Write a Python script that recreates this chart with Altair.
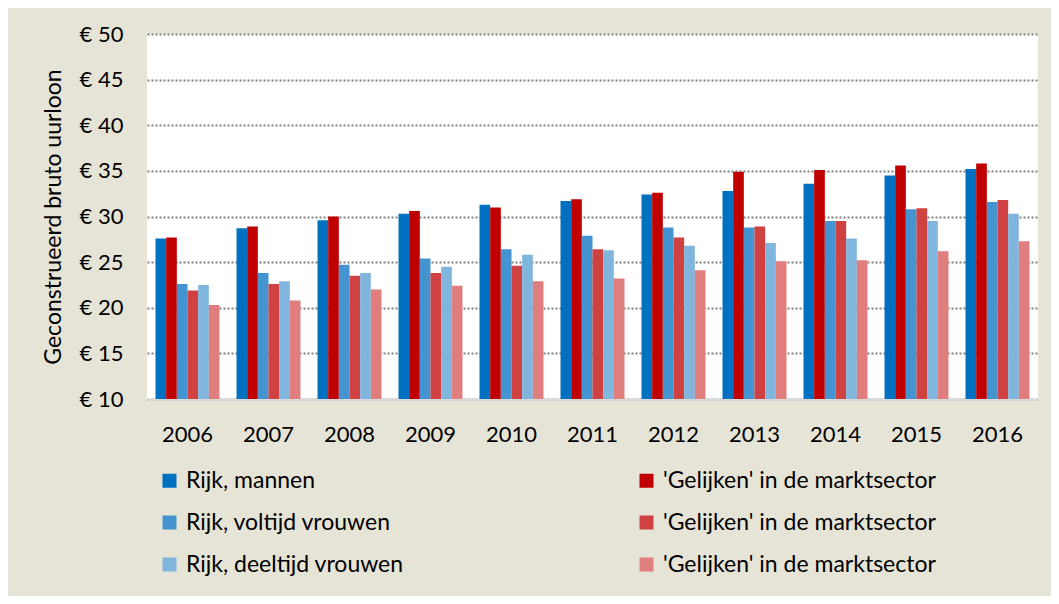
import altair as alt
import pandas as pd

years = ["2006", "2007", "2008", "2009", "2010", "2011", "2012", "2013", "2014", "2015", "2016"]

rijk_mannen = [27.6, 28.7, 29.6, 30.3, 31.3, 31.7, 32.4, 32.8, 33.6, 34.5, 35.2]
gelijk_mannen = [27.7, 28.9, 30.0, 30.6, 31.0, 31.9, 32.6, 34.9, 35.1, 35.6, 35.8]
rijk_voltijd = [22.6, 23.8, 24.7, 25.4, 26.4, 27.9, 28.8, 28.8, 29.5, 30.8, 31.6]
gelijk_voltijd = [21.9, 22.6, 23.5, 23.8, 24.6, 26.4, 27.7, 28.9, 29.5, 30.9, 31.8]
rijk_deeltijd = [22.5, 22.9, 23.8, 24.5, 25.8, 26.3, 26.8, 27.1, 27.6, 29.5, 30.3]
gelijk_deeltijd = [20.3, 20.8, 22.0, 22.4, 22.9, 23.2, 24.1, 25.1, 25.2, 26.2, 27.3]

# bar order within each year group
series_keys = ["s1", "s2", "s3", "s4", "s5", "s6"]
series_labels = [
    "Rijk, mannen",
    "'Gelijken' in de marktsector",
    "Rijk, voltijd vrouwen",
    "'Gelijken' in de marktsector",
    "Rijk, deeltijd vrouwen",
    "'Gelijken' in de marktsector",
]
series_colors = ["#0070C0", "#C00000", "#4394D1", "#D04141", "#80B5DE", "#E07E7E"]
series_values = [rijk_mannen, gelijk_mannen, rijk_voltijd, gelijk_voltijd, rijk_deeltijd, gelijk_deeltijd]

# legend order (filled column by column)
legend_order = ["s1", "s3", "s5", "s2", "s4", "s6"]
legend_colors = [series_colors[series_keys.index(k)] for k in legend_order]

rows = []
for key, vals in zip(series_keys, series_values):
    for y, v in zip(years, vals):
        rows.append({"jaar": y, "reeks": key, "waarde": v})
df = pd.DataFrame(rows)

label_map = "{" + ", ".join(f"'{k}': \"{l}\"" for k, l in zip(series_keys, series_labels)) + "}"

FONT = "Lato"

chart = alt.Chart(df).mark_bar().encode(
    x=alt.X(
        "jaar:N",
        sort=years,
        scale=alt.Scale(paddingInner=0.21, paddingOuter=0.105),
        axis=alt.Axis(
            title=None, labelAngle=0, ticks=False, domainColor="#D9D9D9", domainWidth=2,
            labelFontSize=22, labelPadding=25, labelColor="#000000", labelFont=FONT,
        ),
    ),
    xOffset=alt.XOffset("reeks:N", sort=series_keys, scale=alt.Scale(paddingInner=0)),
    y=alt.Y(
        "waarde:Q",
        scale=alt.Scale(domain=[10, 50], nice=False, zero=False),
        axis=alt.Axis(
            title="Geconstrueerd bruto uurloon", titleFontSize=23, titleFontWeight="normal",
            titleFont=FONT, titleColor="#000000", titlePadding=14,
            values=[10, 15, 20, 25, 30, 35, 40, 45, 50],
            labelExpr="'€ ' + datum.value", labelFontSize=22, labelFont=FONT,
            labelColor="#000000", labelPadding=24, ticks=False, domain=False,
            grid=True, gridColor="#808080", gridDash=[2, 2], gridWidth=1.8,
        ),
    ),
    y2=alt.datum(10),
    color=alt.Color(
        "reeks:N",
        scale=alt.Scale(domain=legend_order, range=legend_colors),
        legend=alt.Legend(
            title=None, orient="none", legendX=11, legendY=435, columns=2,
            columnPadding=231, rowPadding=18, symbolType="square", symbolSize=196,
            symbolStrokeWidth=0, labelFontSize=23, labelFont=FONT, labelColor="#000000",
            labelOffset=5, labelExpr=label_map + "[datum.value]", padding=0,
            labelLimit=400,
        ),
    ),
).properties(
    width=891,
    height=365,
    background="#E6E4D6",
    padding={"left": 139, "top": 26, "right": 13, "bottom": 197},
    autosize=alt.AutoSizeParams(type="none"),
).configure_view(
    fill="#FFFFFF", stroke=None
)

chart.save("out.html", embed_options={"renderer": "svg", "actions": False})
